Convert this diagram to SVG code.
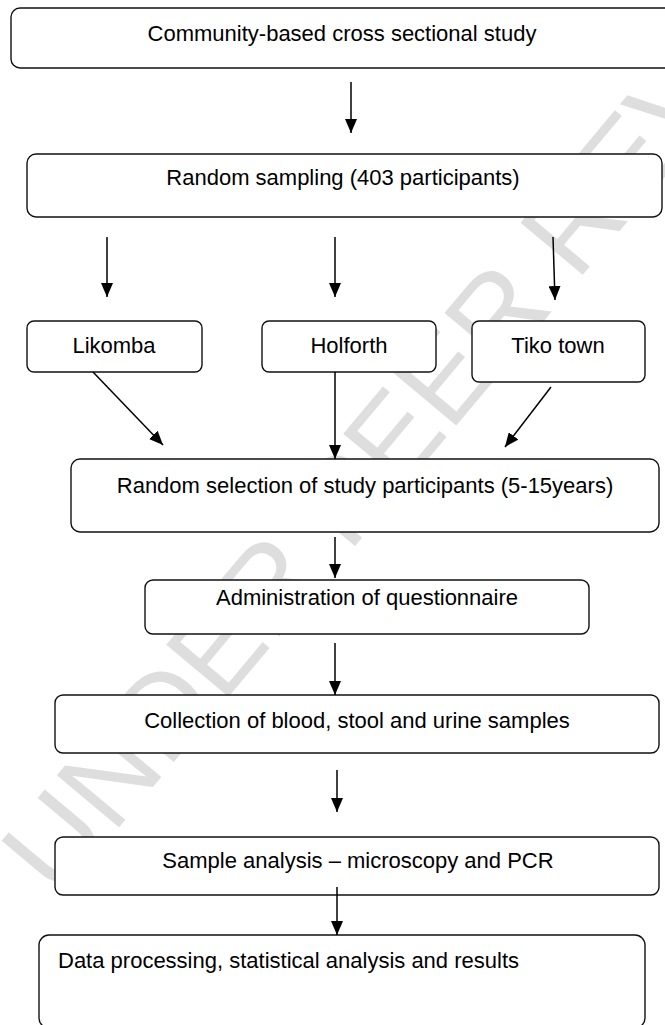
<svg xmlns="http://www.w3.org/2000/svg" width="665" height="1025" viewBox="0 0 665 1025">
  <defs>
    <marker id="ah" viewBox="0 0 14 12" refX="14" refY="6" markerWidth="14" markerHeight="12" markerUnits="userSpaceOnUse" orient="auto">
      <path d="M0,0 L14,6 L0,12 Z" fill="#000"/>
    </marker>
    <style>
      .box { fill: #fff; stroke: #111; stroke-width: 1.4; }
      .lbl { font-family: "Liberation Sans", Arial, sans-serif; font-size: 22px; fill: #000; }
      .mid { text-anchor: middle; }
      .conn line { stroke: #000; stroke-width: 1.5; marker-end: url(#ah); }
      .wm { font-family: "Liberation Sans", Arial, sans-serif; font-size: 118px; fill: #dedede; }
    </style>
  </defs>
  <rect width="665" height="1025" fill="#fff"/>
  <text class="wm" transform="translate(58,900) rotate(-50)">UNDER PEER REVIEW</text>

  <g id="n1"><rect class="box" x="11" y="8" width="670" height="60" rx="9"/><text class="lbl mid" x="342" y="41">Community-based cross sectional study</text></g>
  <g id="n2"><rect class="box" x="27" y="154" width="635" height="63" rx="9"/><text class="lbl mid" x="343" y="185">Random sampling (403 participants)</text></g>
  <g id="n3"><rect class="box" x="27" y="321" width="175" height="51" rx="7"/><text class="lbl mid" x="114" y="353">Likomba</text></g>
  <g id="n4"><rect class="box" x="262" y="321" width="174" height="51" rx="7"/><text class="lbl mid" x="349" y="353">Holforth</text></g>
  <g id="n5"><rect class="box" x="472" y="321" width="173" height="61" rx="7"/><text class="lbl mid" x="558" y="353">Tiko town</text></g>
  <g id="n6"><rect class="box" x="71" y="459" width="588" height="73" rx="9"/><text class="lbl mid" x="365" y="493">Random selection of study participants (5-15years)</text></g>
  <g id="n7"><rect class="box" x="145" y="580" width="444" height="54" rx="8"/><text class="lbl mid" x="367" y="605">Administration of questionnaire</text></g>
  <g id="n8"><rect class="box" x="55" y="695" width="604" height="58" rx="8"/><text class="lbl mid" x="357" y="728">Collection of blood, stool and urine samples</text></g>
  <g id="n9"><rect class="box" x="55" y="837" width="604" height="58" rx="8"/><text class="lbl mid" x="358" y="868">Sample analysis – microscopy and PCR</text></g>
  <g id="n10"><rect class="box" x="39" y="935" width="606" height="93" rx="10"/><text class="lbl" x="58" y="968">Data processing, statistical analysis and results</text></g>

  <g id="connectors" class="conn">
    <line x1="351" y1="82" x2="351" y2="133"/>
    <line x1="107" y1="237" x2="107" y2="297"/>
    <line x1="335" y1="237" x2="335" y2="297"/>
    <line x1="553" y1="237" x2="555" y2="300"/>
    <line x1="93" y1="372" x2="163" y2="445"/>
    <line x1="335" y1="372" x2="335" y2="459"/>
    <line x1="551" y1="387" x2="505" y2="447"/>
    <line x1="335" y1="537" x2="335" y2="578"/>
    <line x1="335" y1="643" x2="335" y2="695"/>
    <line x1="337" y1="770" x2="337" y2="812"/>
    <line x1="337" y1="887" x2="337" y2="935"/>
  </g>
</svg>
